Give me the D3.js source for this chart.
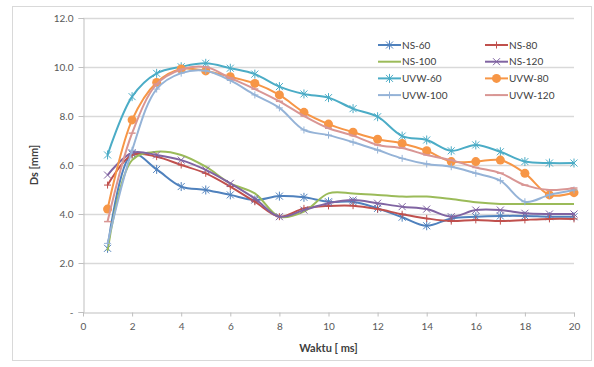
<!DOCTYPE html>
<html>
<head>
<meta charset="utf-8">
<script src="https://cdn.jsdelivr.net/npm/d3@7"></script>
<style>
  body { margin: 0; background: #fff; }
  text { font-family: Lato, "Open Sans", sans-serif; }
</style>
</head>
<body>
<svg id="chart" width="594" height="367"></svg>
<script>
const waktu = d3.range(1, 21)
const seriesNames = ["NS-60", "NS-80", "NS-100", "NS-120", "UVW-60", "UVW-80", "UVW-100", "UVW-120"]
const ns60 = [2.6, 6.45, 5.82, 5.12, 4.98, 4.78, 4.57, 4.73, 4.68, 4.5, 4.5, 4.23, 3.87, 3.52, 3.82, 3.89, 3.92, 3.92, 3.89, 3.89]
const ns80 = [5.18, 6.41, 6.34, 6.0, 5.66, 5.12, 4.5, 3.89, 4.23, 4.33, 4.34, 4.2, 3.99, 3.82, 3.71, 3.76, 3.71, 3.76, 3.8, 3.8]
const ns100 = [2.5, 6.2, 6.54, 6.41, 5.93, 5.25, 4.84, 3.89, 4.1, 4.84, 4.84, 4.78, 4.71, 4.71, 4.61, 4.48, 4.41, 4.41, 4.41, 4.41]
const ns120 = [5.59, 6.5, 6.41, 6.2, 5.8, 5.25, 4.63, 3.89, 4.16, 4.44, 4.57, 4.44, 4.3, 4.2, 3.89, 4.16, 4.16, 4.03, 4.0, 4.0]
const uvw60 = [6.41, 8.79, 9.74, 10.01, 10.15, 9.95, 9.71, 9.2, 8.9, 8.75, 8.3, 7.97, 7.18, 7.02, 6.58, 6.82, 6.54, 6.14, 6.08, 6.08]
const uvw80 = [4.2, 7.84, 9.37, 9.92, 9.84, 9.6, 9.33, 8.86, 8.15, 7.67, 7.34, 7.05, 6.88, 6.58, 6.14, 6.14, 6.2, 5.66, 4.78, 4.87]
const uvw100 = [2.8, 6.6, 9.1, 9.75, 9.85, 9.45, 8.86, 8.33, 7.43, 7.22, 6.93, 6.61, 6.27, 6.04, 5.93, 5.66, 5.36, 4.5, 4.78, 4.98]
const uvw120 = [3.69, 7.3, 9.3, 9.9, 10.0, 9.55, 9.1, 8.6, 8.0, 7.5, 7.2, 6.82, 6.69, 6.41, 6.2, 5.9, 5.67, 5.18, 4.98, 5.06]
const yTicks = [0, 2, 4, 6, 8, 10, 12]
const xTicks = d3.range(0, 21, 2)

const seriesValues = [ns60, ns80, ns100, ns120, uvw60, uvw80, uvw100, uvw120]
const colors = ["#4f81bd", "#c0504d", "#9bbb59", "#8064a2", "#4bacc6", "#f79646", "#95b3d7", "#d99694"]
const markers = ["asterisk", "plus", "none", "cross", "asterisk", "circle", "plus", "dash"]

const svg = d3.select("#chart")

// outer chart frame
svg.append("rect")
  .attr("x", 12.5).attr("y", 6.5).attr("width", 579).attr("height", 354)
  .attr("fill", "#fff").attr("stroke", "#d9d9d9")

const x = d3.scaleLinear().domain([0, 20]).range([83, 574])
const y = d3.scaleLinear().domain([0, 12]).range([312, 18])

// gridlines
svg.append("g").selectAll("line").data(yTicks.filter(d => d > 0)).join("line")
  .attr("x1", x(0)).attr("x2", x(20))
  .attr("y1", d => Math.round(y(d)) + 0.5).attr("y2", d => Math.round(y(d)) + 0.5)
  .attr("stroke", "#d9d9d9").attr("stroke-width", 1.5)

const yAxis = svg.append("g")
  .attr("transform", `translate(${x(0) + 0.5},0)`)
  .call(d3.axisLeft(y).tickValues(yTicks).tickSize(5).tickPadding(5)
    .tickFormat(d => d === 0 ? "-" : d3.format(".1f")(d)))
const xAxis = svg.append("g")
  .attr("transform", `translate(0,${Math.round(y(0)) + 0.5})`)
  .call(d3.axisBottom(x).tickValues(xTicks).tickSize(4).tickPadding(6))

for (const ax of [xAxis, yAxis]) {
  ax.select(".domain").attr("stroke", "#bfbfbf")
  ax.selectAll(".tick line").attr("stroke", "#bfbfbf")
  ax.selectAll("text").attr("fill", "#595959").style("font-size", "10px")
}
xAxis.selectAll(".tick line").filter(d => d === 0).remove()

// axis titles
svg.append("text")
  .attr("transform", `translate(38,${y(6)}) rotate(-90)`)
  .attr("text-anchor", "middle")
  .style("font-size", "11px").style("font-weight", "bold").attr("fill", "#404040")
  .text("Ds [mm]")
svg.append("text")
  .attr("x", x(10)).attr("y", 352)
  .attr("text-anchor", "middle")
  .style("font-size", "11px").style("font-weight", "bold").attr("fill", "#404040")
  .text("Waktu [ ms]")

const line = d3.line()
  .x((d, i) => x(waktu[i]))
  .y(d => y(d))
  .curve(d3.curveCatmullRom.alpha(0.5))

function drawMarker(g, type, color, cx, cy) {
  const s = 3.5
  if (type === "circle") {
    g.append("circle").attr("cx", cx).attr("cy", cy).attr("r", 4.5).attr("fill", color)
  } else if (type === "plus") {
    g.append("path").attr("d", `M${cx - s},${cy}H${cx + s}M${cx},${cy - s}V${cy + s}`)
      .attr("stroke", color).attr("stroke-width", 1)
  } else if (type === "cross") {
    g.append("path").attr("d", `M${cx - s},${cy - s}L${cx + s},${cy + s}M${cx - s},${cy + s}L${cx + s},${cy - s}`)
      .attr("stroke", color).attr("stroke-width", 1)
  } else if (type === "asterisk") {
    g.append("path").attr("d", `M${cx - s},${cy - s}L${cx + s},${cy + s}M${cx - s},${cy + s}L${cx + s},${cy - s}M${cx},${cy - s - 1}V${cy + s + 1}`)
      .attr("stroke", color).attr("stroke-width", 1)
  } else if (type === "dash") {
    g.append("path").attr("d", `M${cx - s},${cy}H${cx + s}`)
      .attr("stroke", color).attr("stroke-width", 1.5)
  }
}

// series, drawn in legend order
seriesValues.forEach((vals, k) => {
  const g = svg.append("g")
  g.append("path").datum(vals)
    .attr("d", line).attr("fill", "none")
    .attr("stroke", colors[k]).attr("stroke-width", 2)
  vals.forEach((v, i) => drawMarker(g, markers[k], colors[k], x(waktu[i]), y(v)))
})

// legend
const legend = svg.append("g")
seriesNames.forEach((name, k) => {
  const col = k % 2, row = Math.floor(k / 2)
  const lx = col === 0 ? 378 : 485
  const ly = 45 + row * 16.7
  const g = legend.append("g")
  g.append("line").attr("x1", lx).attr("x2", lx + 23).attr("y1", ly).attr("y2", ly)
    .attr("stroke", colors[k]).attr("stroke-width", 2)
  drawMarker(g, markers[k], colors[k], lx + 11.5, ly)
  g.append("text").attr("x", lx + 24).attr("y", ly + 3.5)
    .style("font-size", "10px").attr("fill", "#404040").text(name)
})
</script>
</body>
</html>
